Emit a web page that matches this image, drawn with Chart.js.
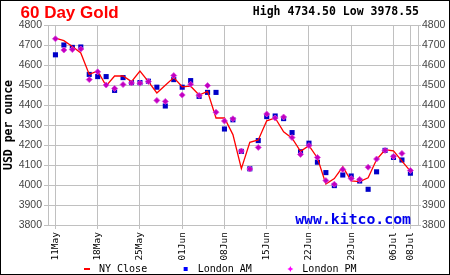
<!DOCTYPE html>
<html>
<head>
<meta charset="UTF-8">
<title>60 Day Gold</title>
<script src="https://cdn.jsdelivr.net/npm/chart.js@4.4.1/dist/chart.umd.min.js"></script>
<style>
  body { margin: 0; background: #fff; }
  #goldChart { display: block; }
</style>
</head>
<body>
<canvas id="goldChart" width="450" height="275"></canvas>
<script>
// trading days shown on the x axis
const days = ['11May','12May','13May','14May','15May','18May','19May','20May','21May','22May',
  '25May','26May','27May','28May','29May','01Jun','02Jun','03Jun','04Jun','05Jun',
  '08Jun','09Jun','10Jun','11Jun','12Jun','15Jun','16Jun','17Jun','18Jun','19Jun',
  '22Jun','23Jun','24Jun','25Jun','26Jun','29Jun','30Jun','01Jul','02Jul','03Jul',
  '06Jul','07Jul','08Jul'];

const tickLabels = ['11May','18May','25May','01Jun','08Jun','15Jun','22Jun','29Jun','06Jul','08Jul'];

const nyClose = [4734.5,4722,4693,4660,4553,4570,4496,4545,4545,4517,
  4570,4517,4460,4499,4537,4491,4494,4450,4468,4335,
  4335,4252,4082,4213,4225,4321,4335,4266,4234,4168,
  4197,4135,4005,4032,4091,4020,4017,4036,4127,4176,
  4171,4119,4069];

const londonAM = [4651,4700,4688,4690,4553,4542,4542,4473,4537,4512,
  4512,4519,4489,4395,4527,4489,4522,4443,4463,4463,
  4280,4326,4168,4081,4222,4342,4345,4332,4262,4166,
  4209,4114,4062,3997,4050,4045,4020,3978.55,4066,4173,
  4138,4125,4059];

const londonPM = [4731,4675,4677,4680,4527,4566,4500,4483,4502,4510,
  4509,4517,4423,4418,4547,4450,4504,4448,4497,4364,
  4320,4331,4170,4080,4188,4355,4335,4340,4237,4153,
  4197,4138,4022,4004,4078,4032,4028,4089,4130,4173,
  4143,4158,4073];

const yMin = 3800, yMax = 4800, yStep = 100;

function pts(arr) {
  return arr.map((v, i) => ({ x: i, y: v }));
}

const all = nyClose.concat(londonAM, londonPM);
const high = Math.max.apply(null, all);
const low = Math.min.apply(null, all);

const mono = 'DejaVu Sans Mono';
const gridColor = '#c0c0c0';

const decor = {
  id: 'decor',
  beforeDraw(chart) {
    const ctx = chart.ctx;
    ctx.save();
    ctx.fillStyle = '#fff';
    ctx.fillRect(0, 0, chart.width, chart.height);
    ctx.restore();
  },
  afterDraw(chart) {
    const ctx = chart.ctx;
    const area = chart.chartArea;
    ctx.save();

    ctx.fillStyle = '#ff0000';
    ctx.font = 'bold 17px "Liberation Sans"';
    ctx.textAlign = 'left';
    ctx.textBaseline = 'alphabetic';
    ctx.fillText('60 Day Gold', 20.5, 17.5);

    ctx.fillStyle = '#000';
    ctx.font = 'bold 11.5px "' + mono + '"';
    ctx.textAlign = 'right';
    ctx.fillText('High ' + high.toFixed(2) + ' Low ' + low.toFixed(2), 419, 15);

    ctx.fillStyle = '#0000ee';
    ctx.font = 'bold 14.8px "' + mono + '"';
    ctx.fillText('www.kitco.com', area.right - 7, area.bottom - 1);

    // legend
    ctx.font = '10px "' + mono + '"';
    ctx.textAlign = 'left';
    ctx.textBaseline = 'middle';
    let x = 87;
    const y = 269;
    chart.data.datasets.slice().sort((a, b) => a.legendPos - b.legendPos).forEach(ds => {
      if (ds.legendMark === 'line') {
        ctx.strokeStyle = '#ff0000';
        ctx.lineWidth = 2;
        ctx.beginPath();
        ctx.moveTo(x - 3, y);
        ctx.lineTo(x + 3, y);
        ctx.stroke();
      } else if (ds.legendMark === 'square') {
        ctx.fillStyle = '#0000ff';
        ctx.fillRect(x - 2, y - 2, 4, 4);
      } else {
        ctx.fillStyle = '#ff00ff';
        ctx.beginPath();
        ctx.moveTo(x, y - 3);
        ctx.lineTo(x + 1, y - 1);
        ctx.lineTo(x + 3, y);
        ctx.lineTo(x + 1, y + 1);
        ctx.lineTo(x, y + 3);
        ctx.lineTo(x - 1, y + 1);
        ctx.lineTo(x - 3, y);
        ctx.lineTo(x - 1, y - 1);
        ctx.closePath();
        ctx.fill();
      }
      ctx.fillStyle = '#000';
      ctx.fillText(ds.label, x + 12, y + 0.5);
      x += 12 + ctx.measureText(ds.label).width + 38.5;
    });

    ctx.strokeStyle = '#000';
    ctx.lineWidth = 1;
    ctx.strokeRect(0.5, 0.5, chart.width - 1, chart.height - 1);
    ctx.restore();
  }
};

new Chart('goldChart', {
  type: 'line',
  data: {
    datasets: [{
      label: 'London PM',
      data: pts(londonPM),
      showLine: false,
      pointStyle: 'rectRot',
      pointRadius: 3,
      pointBackgroundColor: '#c000c0',
      pointBorderColor: '#dd44dd',
      pointBorderWidth: 0.8,
      order: 0,
      legendPos: 2,
      legendMark: 'star'
    }, {
      label: 'NY Close',
      data: pts(nyClose),
      borderColor: '#ff0000',
      borderWidth: 1.3,
      tension: 0,
      pointRadius: 0,
      fill: false,
      order: 1,
      legendPos: 0,
      legendMark: 'line'
    }, {
      label: 'London AM',
      data: pts(londonAM),
      showLine: false,
      pointStyle: 'rect',
      pointRadius: 3.6,
      pointBackgroundColor: '#0000c8',
      pointBorderColor: '#0000c8',
      pointBorderWidth: 0,
      order: 2,
      legendPos: 1,
      legendMark: 'square'
    }]
  },
  options: {
    responsive: false,
    animation: false,
    layout: { padding: { top: 25, bottom: 15, left: 0, right: 0 } },
    plugins: {
      legend: { display: false },
      tooltip: { enabled: false }
    },
    scales: {
      x: {
        type: 'linear',
        min: -0.88,
        max: 42.9,
        afterBuildTicks: s => { s.ticks = tickLabels.map(l => ({ value: days.indexOf(l) })); },
        afterFit: s => { s.height = 35; },
        ticks: {
          autoSkip: false,
          minRotation: 90,
          maxRotation: 90,
          padding: 3,
          color: '#000',
          font: { family: mono, size: 9.5 },
          callback: v => days[v]
        },
        grid: { color: gridColor, tickLength: 4 },
        border: { color: gridColor }
      },
      y: {
        position: 'left',
        min: yMin,
        max: yMax,
        afterFit: s => { s.width = 48; },
        ticks: {
          stepSize: yStep,
          padding: 2,
          color: '#444',
          font: { family: 'Liberation Sans', size: 10.5 },
          callback: v => String(v)
        },
        grid: { color: gridColor, tickLength: 4 },
        border: { color: gridColor },
        title: {
          display: true,
          text: 'USD per ounce',
          color: '#000',
          font: { family: mono, size: 11.5, weight: 'bold' },
          padding: { top: 2, bottom: 0 }
        }
      },
      y2: {
        position: 'right',
        min: yMin,
        max: yMax,
        afterFit: s => { s.width = 32; },
        ticks: {
          stepSize: yStep,
          padding: 1,
          color: '#444',
          font: { family: 'Liberation Sans', size: 10.5 },
          callback: v => String(v)
        },
        grid: { drawOnChartArea: false, color: gridColor, tickLength: 3 },
        border: { color: gridColor }
      }
    }
  },
  plugins: [decor]
});
</script>
</body>
</html>
